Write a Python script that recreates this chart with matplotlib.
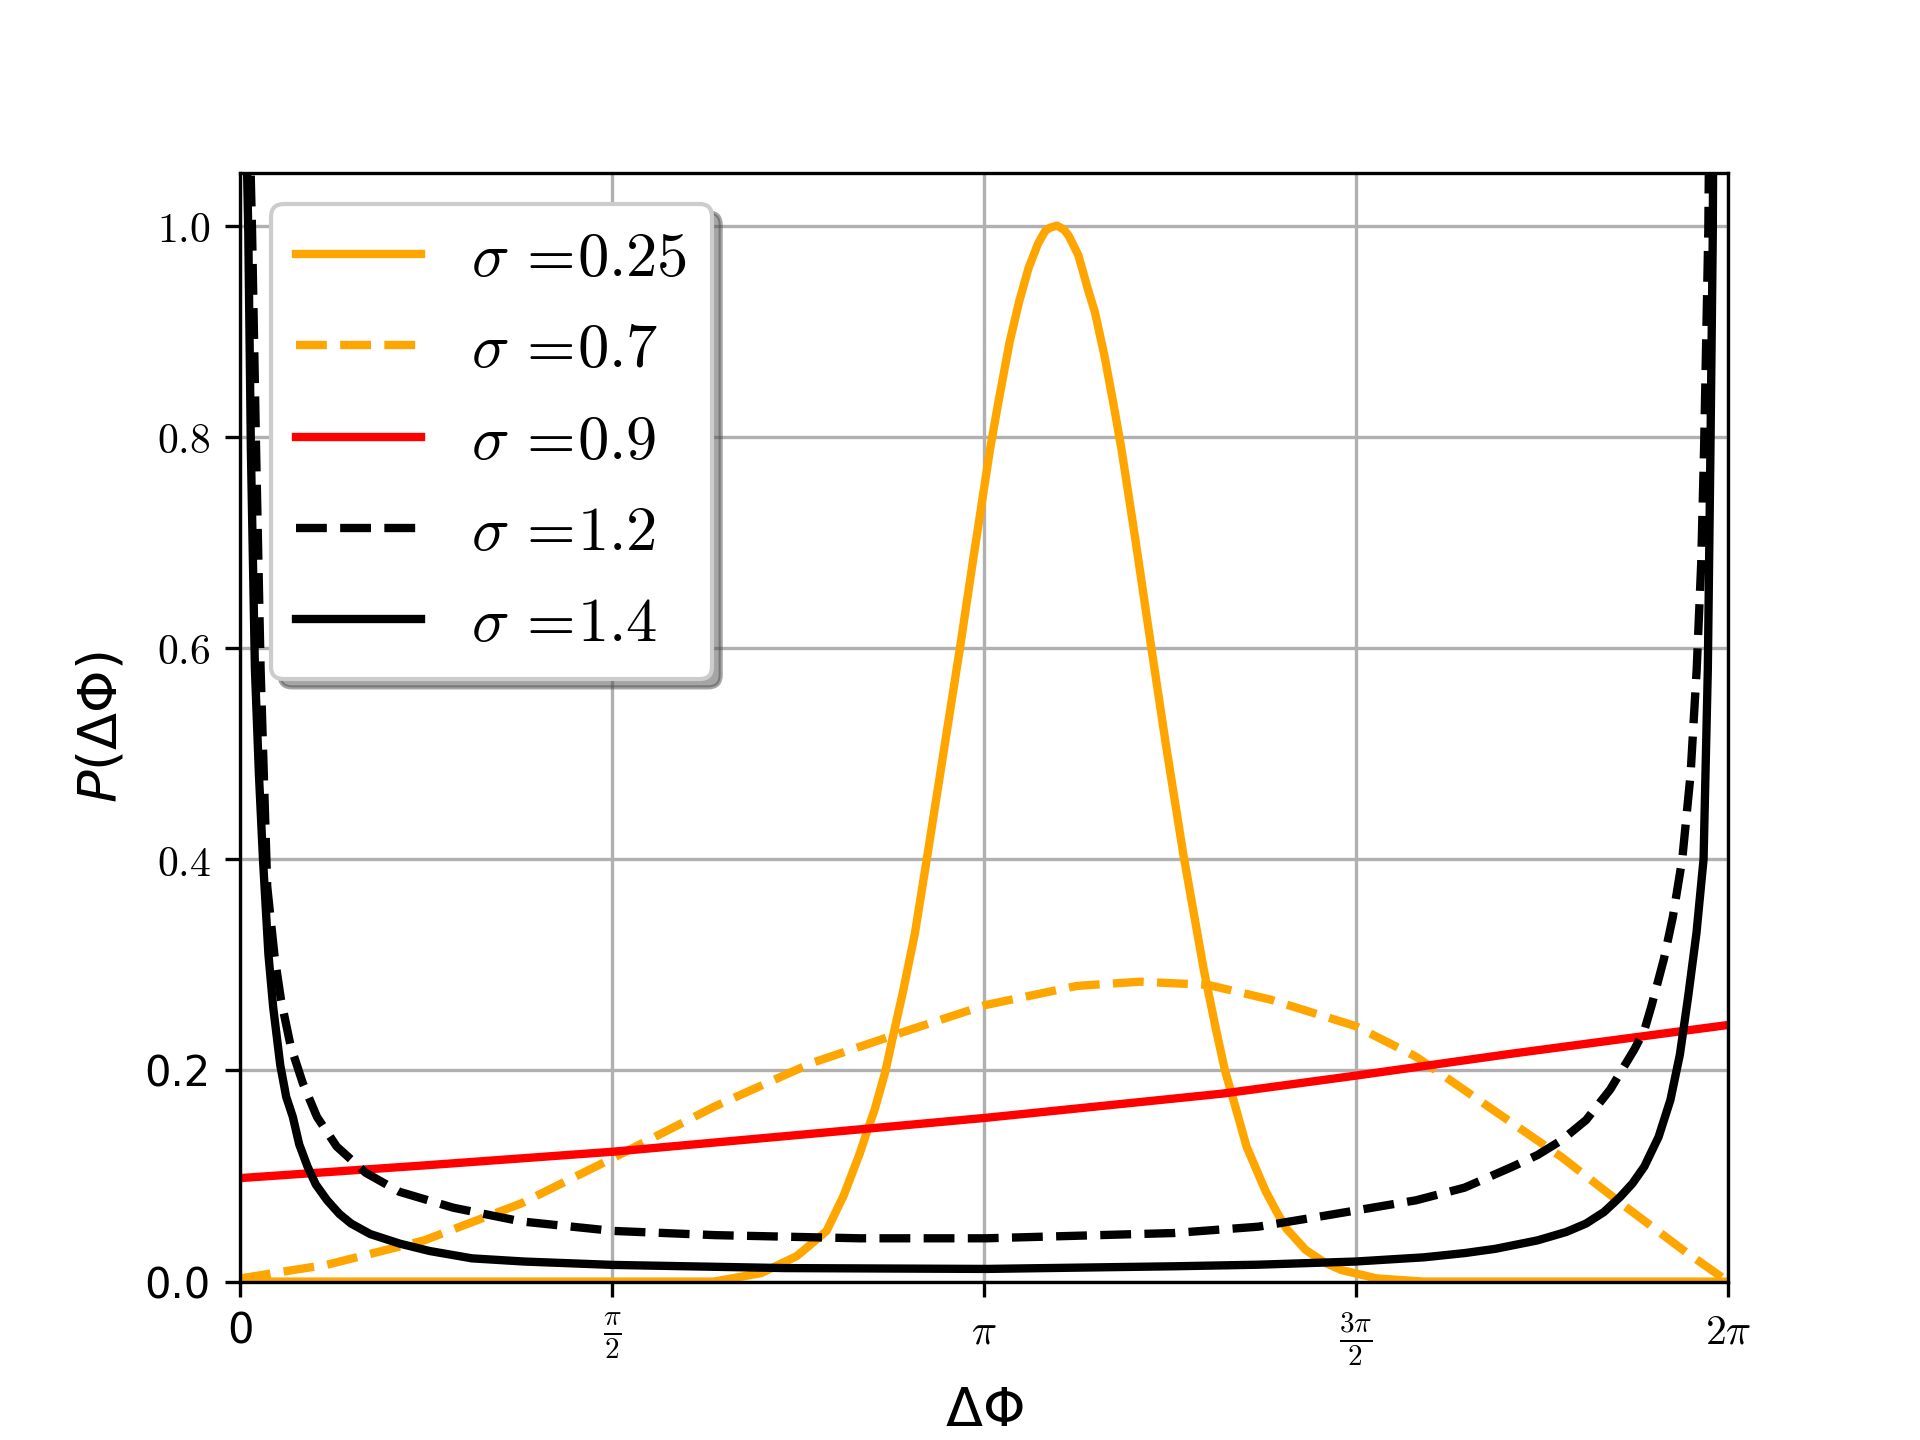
import numpy as np
import matplotlib
matplotlib.use("Agg")
import matplotlib.pyplot as plt

plt.rcParams["mathtext.fontset"] = "cm"

TWO_PI = 2 * np.pi

# ── Data (x in rad, y = P(ΔΦ)) ───────────────────────────────────────────────
x_025 = [0.0, 2.0, 2.2, 2.35, 2.414, 2.477, 2.55, 2.618, 2.646, 2.68, 2.724, 2.76,
         2.8, 2.85, 2.9, 2.97, 3.04, 3.10, 3.167, 3.20, 3.25, 3.29, 3.33, 3.37,
         3.40, 3.42, 3.45, 3.48, 3.50, 3.54, 3.58, 3.61, 3.65, 3.69, 3.723,
         3.78, 3.843, 3.91, 3.983, 4.07, 4.12, 4.159, 4.20, 4.25, 4.33, 4.38,
         4.419, 4.5, 4.58, 4.65, 4.8, 5.0, TWO_PI]
y_025 = [0.0, 0.0, 0.008, 0.024, 0.036, 0.048, 0.082, 0.122, 0.141, 0.163, 0.198, 0.235,
         0.275, 0.33, 0.4, 0.5, 0.6, 0.69, 0.788, 0.83, 0.89, 0.928, 0.96, 0.983,
         0.995, 0.998, 1.0, 0.996, 0.99, 0.972, 0.94, 0.918, 0.877, 0.829, 0.787,
         0.704, 0.608, 0.508, 0.405, 0.295, 0.24, 0.2, 0.168, 0.128, 0.086, 0.065,
         0.05, 0.03, 0.018, 0.011, 0.003, 0.0, 0.0]

x_07 = [0.0, 0.368, 0.777, 1.187, 1.575, 2.006, 2.414, 2.823, 3.15, 3.534, 3.80,
        4.087, 4.352, 4.71, 4.966, 5.25, 5.58, 5.85, 6.093, TWO_PI]
y_07 = [0.003, 0.016, 0.039, 0.074, 0.117, 0.166, 0.207, 0.238, 0.262, 0.280,
        0.284, 0.281, 0.267, 0.242, 0.213, 0.169, 0.118, 0.071, 0.030, 0.0]

x_09 = [0.0, 0.777, 1.575, 2.414, 3.145, 4.148, 4.71, 5.375, TWO_PI]
y_09 = [0.098, 0.110, 0.123, 0.140, 0.155, 0.178, 0.195, 0.216, 0.243]

x_12 = [0.038, 0.045, 0.051, 0.068, 0.087, 0.115, 0.146, 0.173, 0.214, 0.265,
        0.325, 0.408, 0.531, 0.674, 0.9, 1.187, 1.575, 2.006, 2.618, 3.15,
        3.944, 4.3, 4.557, 4.966, 5.171, 5.375, 5.48, 5.581, 5.684, 5.786,
        5.888, 5.93, 5.96, 6.012, 6.05, 6.09, 6.125, 6.151, 6.17, 6.182,
        6.200, 6.212]
y_12 = [1.3, 1.05, 0.994, 0.787, 0.58, 0.374, 0.308, 0.267, 0.223, 0.188,
        0.156, 0.128, 0.103, 0.085, 0.07, 0.057, 0.048, 0.044, 0.041, 0.041,
        0.046, 0.052, 0.0615, 0.077, 0.089, 0.109, 0.12, 0.134, 0.153, 0.182,
        0.22, 0.238, 0.261, 0.305, 0.345, 0.40, 0.48, 0.58, 0.68, 0.787,
        0.994, 1.3]

x_14 = [0.026, 0.030, 0.035, 0.046, 0.063, 0.08, 0.097, 0.12, 0.14, 0.17, 0.195,
        0.223, 0.25, 0.285, 0.32, 0.368, 0.42, 0.469, 0.55, 0.674, 0.8, 0.98,
        1.2, 1.575, 2.3, 3.15, 3.944, 4.3, 4.71, 5.0, 5.171, 5.3, 5.478, 5.6,
        5.684, 5.76, 5.827, 5.88, 5.93, 5.99, 6.04, 6.08, 6.115, 6.15, 6.18,
        6.198, 6.209, 6.219, 6.225]
y_14 = [1.3, 1.05, 0.994, 0.787, 0.58, 0.48, 0.40, 0.31, 0.26, 0.205, 0.175,
        0.156, 0.13, 0.109, 0.092, 0.077, 0.064, 0.055, 0.045, 0.036, 0.029, 0.022,
        0.019, 0.0158, 0.0128, 0.012, 0.0145, 0.016, 0.019, 0.023, 0.027, 0.031,
        0.039, 0.047, 0.055, 0.066, 0.080, 0.093, 0.109, 0.137, 0.172, 0.215,
        0.27, 0.33, 0.40, 0.58, 0.787, 0.994, 1.3]

SERIES = [
    (x_025, y_025, "orange", "-",  r"$\sigma\,=\!0.25$"),
    (x_07,  y_07,  "orange", "--", r"$\sigma\,=\!0.7$"),
    (x_09,  y_09,  "red",    "-",  r"$\sigma\,=\!0.9$"),
    (x_12,  y_12,  "black",  "--", r"$\sigma\,=\!1.2$"),
    (x_14,  y_14,  "black",  "-",  r"$\sigma\,=\!1.4$"),
]

X_TICKS = [0, np.pi / 2, np.pi, 3 * np.pi / 2, TWO_PI]
X_TICK_LABELS = ["0", r"$\frac{\pi}{2}$", r"$\pi$", r"$\frac{3\pi}{2}$", r"$2\pi$"]
Y_TICKS = [0.0, 0.2, 0.4, 0.6, 0.8, 1.0]
Y_TICK_LABELS = ["0.0", "0.2", r"$0.4$", r"$0.6$", r"$0.8$", r"$1.0$"]

# ── Figure ───────────────────────────────────────────────────────────────────
fig, ax = plt.subplots(figsize=(6.4, 4.8), dpi=300)

for xs, ys, c, ls, lab in SERIES:
    ax.plot(xs, ys, color=c, linestyle=ls, linewidth=2, label=lab)

ax.set_xlim(0, TWO_PI)
ax.set_ylim(0, 1.05)
ax.set_xticks(X_TICKS)
ax.set_xticklabels(X_TICK_LABELS)
ax.set_yticks(Y_TICKS)
ax.set_yticklabels(Y_TICK_LABELS)
ax.grid(True)

ax.set_xlabel(r"$\Delta\Phi$", fontsize=13, math_fontfamily="dejavusans")
ax.set_ylabel(r"$P(\Delta\Phi)$", fontsize=13, math_fontfamily="dejavusans")

ax.legend(loc="upper left", fontsize=15, shadow=True, framealpha=1)

fig.savefig("out.png", dpi=300)
